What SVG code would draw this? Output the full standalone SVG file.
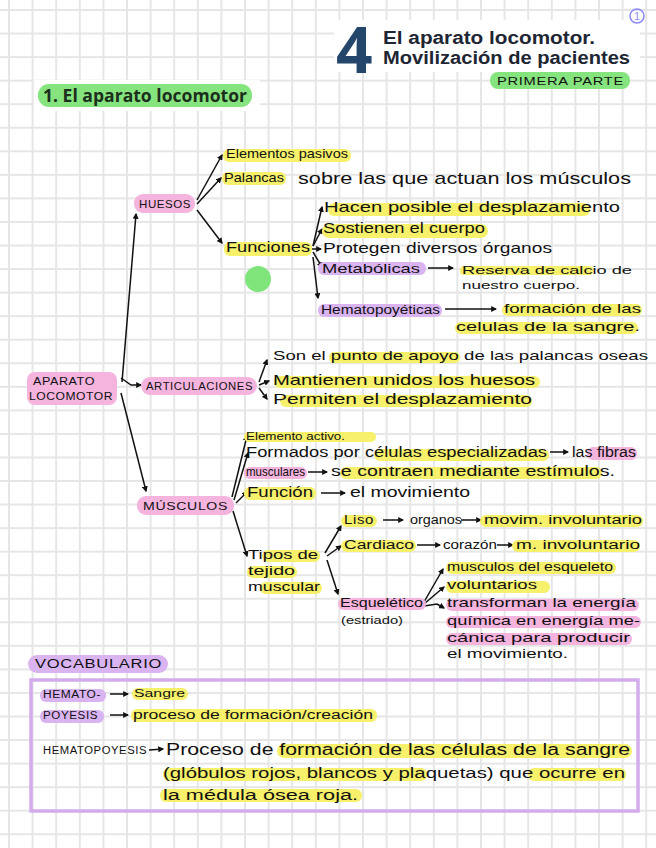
<svg xmlns="http://www.w3.org/2000/svg" width="656" height="848" viewBox="0 0 656 848">
<defs>
<pattern id="grid" patternUnits="userSpaceOnUse" x="9" y="10" width="23.6" height="23.55">
<path d="M0 0V23.55M23.6 0V23.55M0 0H23.6M0 23.55H23.6" stroke="#e6e6e6" stroke-width="2" fill="none"/>
</pattern>
<marker id="ah" viewBox="0 0 10 10" refX="8" refY="5" markerWidth="6" markerHeight="6" orient="auto" markerUnits="userSpaceOnUse">
<path d="M0 0L10 5L0 10z" fill="#111"/>
</marker>
<style>
.t{font-family:"Liberation Sans",Arial,sans-serif;fill:#111}
.c{font-family:"Liberation Sans",Arial,sans-serif;fill:#111;letter-spacing:0.5px}
.hd{font-family:"Liberation Sans",Arial,sans-serif;font-weight:700;fill:#1e2633}
.y{fill:#f6f06a}
.p{fill:#f4b4de}
.v{fill:#dab4f1}
.g{fill:#86e47f}
.ln{stroke:#111;stroke-width:1.5;fill:none;marker-end:url(#ah)}
</style>
</defs>
<rect width="656" height="848" fill="#fff"/>
<rect width="656" height="848" fill="url(#grid)"/>

<g id="header">
<rect x="334" y="20" width="306" height="52" fill="#fff"/>
<rect x="34" y="80" width="226" height="31" fill="#fff"/>
<text x="336" y="73" font-family="Open Sans,Noto Sans,sans-serif" font-weight="700" font-size="64" fill="#23466a">4</text>
<text x="383" y="44" class="hd" font-size="17.5" textLength="212" lengthAdjust="spacingAndGlyphs">El aparato locomotor.</text>
<text x="383" y="64" class="hd" font-size="17.5" textLength="247" lengthAdjust="spacingAndGlyphs">Movilización de pacientes</text>
<circle cx="637" cy="16" r="7" fill="none" stroke="#8a8af5" stroke-width="1.5"/>
<text x="637" y="20" font-family="Liberation Sans,sans-serif" font-size="10" fill="#8a8af5" text-anchor="middle">1</text>
<rect x="490" y="72" width="140" height="17" rx="8" class="g"/>
<text x="497" y="85" class="c" font-size="10" textLength="127" lengthAdjust="spacingAndGlyphs">PRIMERA PARTE</text>
<rect x="38" y="84" width="214" height="23" rx="11" class="g"/>
<text x="43" y="102" font-family="Open Sans,Noto Sans,sans-serif" font-weight="700" font-size="17" fill="#1c2e1c" textLength="204" lengthAdjust="spacingAndGlyphs">1. El aparato locomotor</text>
</g>

<g id="connectors">
<path class="ln" d="M122 382L136 214"/>
<path class="ln" d="M121 393L146 491"/>
<path class="ln" d="M121 378L131 385L141 385"/>
<path class="ln" d="M197 200L222 155"/>
<path class="ln" d="M197 204L221 178"/>
<path class="ln" d="M197 210L222 243"/>
<path class="ln" d="M313 246L322 207"/>
<path class="ln" d="M313 246L322 229"/>
<path class="ln" d="M312 249L321 249"/>
<path class="ln" d="M313 252L322 267"/>
<path class="ln" d="M313 257L318 298"/>
<path class="ln" d="M428 268L453 268"/>
<path class="ln" d="M445 309L496 309"/>
<path class="ln" d="M259 382L267 360"/>
<path class="ln" d="M259 385L269 381"/>
<path class="ln" d="M259 388L267 399"/>
<path class="ln" d="M232 497L247 436"/>
<path class="ln" d="M234 500L248 453"/>
<path class="ln" d="M236 503L247 492"/>
<path class="ln" d="M233 511L247 556"/>
<path class="ln" d="M550 452L568 452"/>
<path class="ln" d="M308 472L327 472"/>
<path class="ln" d="M321 493L345 493"/>
<path class="ln" d="M325 553L341 526"/>
<path class="ln" d="M327 556L341 546"/>
<path class="ln" d="M327 560L338 594"/>
<path class="ln" d="M383 520L403 520"/>
<path class="ln" d="M461 520L481 520"/>
<path class="ln" d="M417 545L440 545"/>
<path class="ln" d="M497 545L513 545"/>
<path class="ln" d="M424 602L443 569"/>
<path class="ln" d="M424 604L444 587"/>
<path class="ln" d="M424 606L437 604L444 608"/>
<path class="ln" d="M110 694L128 694"/>
<path class="ln" d="M110 715L128 715"/>
<path class="ln" d="M149 750L163 749"/>
</g>

<g id="aparato">
<rect x="27" y="372" width="90" height="33" rx="8" class="p"/>
<text x="33" y="385" class="c" font-size="11" textLength="62" lengthAdjust="spacingAndGlyphs">APARATO</text>
<text x="29" y="400" class="c" font-size="11" textLength="84" lengthAdjust="spacingAndGlyphs">LOCOMOTOR</text>
</g>

<g id="huesos">
<rect x="134" y="194" width="61" height="19" rx="9" class="p"/>
<text x="139" y="208" class="c" font-size="11" textLength="52" lengthAdjust="spacingAndGlyphs">HUESOS</text>
</g>
<g id="elementos-pasivos">
<rect x="223" y="149" width="128" height="13" rx="6" class="y"/>
<text x="226" y="158" class="t" font-size="13" textLength="122" lengthAdjust="spacingAndGlyphs">Elementos pasivos</text>
</g>
<g id="palancas">
<rect x="222" y="172" width="64" height="13" rx="6" class="y"/>
<text x="224" y="182" class="t" font-size="13" textLength="60" lengthAdjust="spacingAndGlyphs">Palancas</text>
<text x="298" y="184" class="t" font-size="17" textLength="333" lengthAdjust="spacingAndGlyphs">sobre las que actuan los músculos</text>
</g>
<g id="funciones">
<rect x="224" y="242" width="88" height="14" rx="6" class="y"/>
<text x="226" y="252" class="t" font-size="14" textLength="84" lengthAdjust="spacingAndGlyphs">Funciones</text>
</g>
<g id="hacen">
<rect x="328" y="203" width="262" height="13" rx="6" class="y"/>
<text x="324" y="212" class="t" font-size="15" textLength="296" lengthAdjust="spacingAndGlyphs">Hacen posible el desplazamiento</text>
</g>
<g id="sostienen">
<rect x="322" y="224" width="166" height="14" rx="7" class="y"/>
<text x="323" y="233" class="t" font-size="15" textLength="162" lengthAdjust="spacingAndGlyphs">Sostienen el cuerpo</text>
</g>
<g id="protegen">
<text x="323" y="253" class="t" font-size="15" textLength="229" lengthAdjust="spacingAndGlyphs">Protegen diversos órganos</text>
</g>
<g id="metabolicas">
<rect x="318" y="262" width="108" height="13" rx="6" class="v"/>
<text x="322" y="273" class="t" font-size="13" textLength="98" lengthAdjust="spacingAndGlyphs">Metabólicas</text>
</g>
<g id="reserva">
<rect x="460" y="266" width="133" height="9" rx="4" class="y"/>
<text x="462" y="274" class="t" font-size="11" textLength="170" lengthAdjust="spacingAndGlyphs">Reserva de calcio de</text>
<text x="462" y="289" class="t" font-size="11" textLength="118" lengthAdjust="spacingAndGlyphs">nuestro cuerpo.</text>
</g>
<g id="hematopoyeticas">
<rect x="318" y="304" width="124" height="13" rx="6" class="v"/>
<text x="321" y="314" class="t" font-size="12" textLength="119" lengthAdjust="spacingAndGlyphs">Hematopoyéticas</text>
</g>
<g id="formacion">
<rect x="502" y="304" width="140" height="12" rx="6" class="y"/>
<text x="504" y="313" class="t" font-size="13" textLength="137" lengthAdjust="spacingAndGlyphs">formación de las</text>
<rect x="455" y="322" width="183" height="12" rx="6" class="y"/>
<text x="456" y="331" class="t" font-size="13" textLength="184" lengthAdjust="spacingAndGlyphs">celulas de la sangre.</text>
</g>
<circle cx="258" cy="279" r="13" fill="#7fe57b"/>

<g id="articulaciones">
<rect x="141" y="377" width="116" height="18" rx="9" class="p"/>
<text x="146" y="390" class="c" font-size="10" textLength="107" lengthAdjust="spacingAndGlyphs">ARTICULACIONES</text>
</g>
<g id="son">
<rect x="329" y="352" width="131" height="11" rx="5" class="y"/>
<text x="273" y="360" class="t" font-size="13" textLength="375" lengthAdjust="spacingAndGlyphs">Son el punto de apoyo de las palancas oseas</text>
</g>
<g id="mantienen">
<rect x="274" y="376" width="266" height="12" rx="6" class="y"/>
<text x="273" y="385" class="t" font-size="15" textLength="262" lengthAdjust="spacingAndGlyphs">Mantienen unidos los huesos</text>
</g>
<g id="permiten">
<rect x="280" y="395" width="252" height="12" rx="6" class="y"/>
<text x="273" y="404" class="t" font-size="15" textLength="259" lengthAdjust="spacingAndGlyphs">Permiten el desplazamiento</text>
</g>

<g id="musculos">
<rect x="137" y="496" width="97" height="19" rx="9" class="p"/>
<text x="143" y="510" class="c" font-size="11" textLength="85" lengthAdjust="spacingAndGlyphs">MÚSCULOS</text>
</g>
<g id="elemento-activo">
<rect x="244" y="432" width="132" height="10" rx="5" class="y"/>
<text x="246" y="440" class="t" font-size="11" textLength="99" lengthAdjust="spacingAndGlyphs">Elemento activo.</text>
</g>
<g id="formados">
<rect x="374" y="449" width="175" height="12" rx="6" class="y"/>
<rect x="587" y="447" width="50" height="13" rx="6" class="p"/>
<text x="246" y="457" class="t" font-size="14" textLength="301" lengthAdjust="spacingAndGlyphs">Formados por células especializadas</text>
<text x="572" y="457" class="t" font-size="14" textLength="64" lengthAdjust="spacingAndGlyphs">las fibras</text>
<rect x="244" y="467" width="63" height="12" rx="6" class="p"/>
<rect x="340" y="467" width="262" height="12" rx="6" class="y"/>
<text x="246" y="476" class="t" font-size="13" textLength="59" lengthAdjust="spacingAndGlyphs">musculares</text>
<text x="331" y="476" class="t" font-size="14" textLength="284" lengthAdjust="spacingAndGlyphs">se contraen mediante estímulos.</text>
</g>
<g id="funcion">
<rect x="244" y="487" width="72" height="13" rx="6" class="y"/>
<text x="247" y="497" class="t" font-size="14" textLength="66" lengthAdjust="spacingAndGlyphs">Función</text>
<text x="350" y="497" class="t" font-size="14" textLength="120" lengthAdjust="spacingAndGlyphs">el movimiento</text>
</g>
<g id="tipos">
<rect x="262" y="550" width="58" height="12" rx="6" class="y"/>
<rect x="247" y="566" width="50" height="12" rx="6" class="y"/>
<rect x="260" y="582" width="62" height="12" rx="6" class="y"/>
<text x="248" y="559" class="t" font-size="13" textLength="70" lengthAdjust="spacingAndGlyphs">Tipos de</text>
<text x="248" y="575" class="t" font-size="13" textLength="47" lengthAdjust="spacingAndGlyphs">tejido</text>
<text x="248" y="591" class="t" font-size="13" textLength="72" lengthAdjust="spacingAndGlyphs">muscular</text>
</g>
<g id="liso">
<rect x="341" y="515" width="36" height="12" rx="6" class="y"/>
<rect x="480" y="515" width="163" height="12" rx="6" class="y"/>
<text x="344" y="524" class="c" font-size="12" textLength="30" lengthAdjust="spacingAndGlyphs">Liso</text>
<text x="410" y="524" class="t" font-size="12" textLength="52" lengthAdjust="spacingAndGlyphs">organos</text>
<text x="484" y="524" class="t" font-size="12" textLength="158" lengthAdjust="spacingAndGlyphs">movim. involuntario</text>
</g>
<g id="cardiaco">
<rect x="341" y="540" width="75" height="12" rx="6" class="y"/>
<rect x="512" y="540" width="128" height="12" rx="6" class="y"/>
<text x="344" y="549" class="t" font-size="12" textLength="70" lengthAdjust="spacingAndGlyphs">Cardiaco</text>
<text x="443" y="549" class="t" font-size="12" textLength="54" lengthAdjust="spacingAndGlyphs">corazón</text>
<text x="516" y="549" class="t" font-size="12" textLength="124" lengthAdjust="spacingAndGlyphs">m. involuntario</text>
</g>
<g id="esqueletico">
<rect x="338" y="598" width="88" height="12" rx="6" class="p"/>
<text x="340" y="607" class="t" font-size="12" textLength="83" lengthAdjust="spacingAndGlyphs">Esquelético</text>
<text x="341" y="624" class="t" font-size="10" textLength="62" lengthAdjust="spacingAndGlyphs">(estriado)</text>
</g>
<g id="esq-desc">
<rect x="446" y="562" width="170" height="12" rx="6" class="y"/>
<text x="447" y="571" class="t" font-size="13" textLength="166" lengthAdjust="spacingAndGlyphs">musculos del esqueleto</text>
<rect x="446" y="581" width="104" height="12" rx="6" class="y"/>
<text x="447" y="589" class="t" font-size="13" textLength="90" lengthAdjust="spacingAndGlyphs">voluntarios</text>
<rect x="446" y="599" width="193" height="12" rx="6" class="p"/>
<rect x="446" y="616" width="195" height="12" rx="6" class="p"/>
<rect x="446" y="633" width="186" height="12" rx="6" class="p"/>
<text x="447" y="607" class="t" font-size="13" textLength="189" lengthAdjust="spacingAndGlyphs">transforman la energía</text>
<text x="447" y="625" class="t" font-size="13" textLength="193" lengthAdjust="spacingAndGlyphs">química en energía me-</text>
<text x="447" y="642" class="t" font-size="13" textLength="183" lengthAdjust="spacingAndGlyphs">cánica para producir</text>
<text x="447" y="658" class="t" font-size="13" textLength="121" lengthAdjust="spacingAndGlyphs">el movimiento.</text>
</g>

<g id="vocabulario">
<rect x="28" y="655" width="140" height="18" rx="9" class="v"/>
<text x="35" y="668" class="c" font-size="12" textLength="127" lengthAdjust="spacingAndGlyphs">VOCABULARIO</text>
<rect x="31" y="680" width="607" height="131" fill="#fff" fill-opacity="0" stroke="#d2aceb" stroke-width="3.5"/>
<rect x="40" y="689" width="66" height="13" rx="6" class="v"/>
<text x="43" y="698" class="c" font-size="10" textLength="58" lengthAdjust="spacingAndGlyphs">HEMATO-</text>
<rect x="132" y="688" width="56" height="12" rx="6" class="y"/>
<text x="134" y="697" class="t" font-size="11" textLength="51" lengthAdjust="spacingAndGlyphs">Sangre</text>
<rect x="40" y="710" width="64" height="13" rx="6" class="v"/>
<text x="43" y="719" class="c" font-size="10" textLength="55" lengthAdjust="spacingAndGlyphs">POYESIS</text>
<rect x="131" y="709" width="246" height="13" rx="6" class="y"/>
<text x="133" y="719" class="t" font-size="12" textLength="240" lengthAdjust="spacingAndGlyphs">proceso de formación/creación</text>
<text x="43" y="754" class="c" font-size="10" textLength="104" lengthAdjust="spacingAndGlyphs">HEMATOPOYESIS</text>
<rect x="277" y="744" width="355" height="14" rx="7" class="y"/>
<text x="166" y="755" class="t" font-size="16" textLength="464" lengthAdjust="spacingAndGlyphs">Proceso de formación de las células de la sangre</text>
<rect x="163" y="768" width="264" height="13" rx="6" class="y"/>
<rect x="528" y="768" width="98" height="13" rx="6" class="y"/>
<text x="163" y="778" class="t" font-size="14" textLength="462" lengthAdjust="spacingAndGlyphs">(glóbulos rojos, blancos y plaquetas) que ocurre en</text>
<rect x="160" y="789" width="202" height="13" rx="6" class="y"/>
<text x="163" y="800" class="t" font-size="14" textLength="195" lengthAdjust="spacingAndGlyphs">la médula ósea roja.</text>
</g>
</svg>
